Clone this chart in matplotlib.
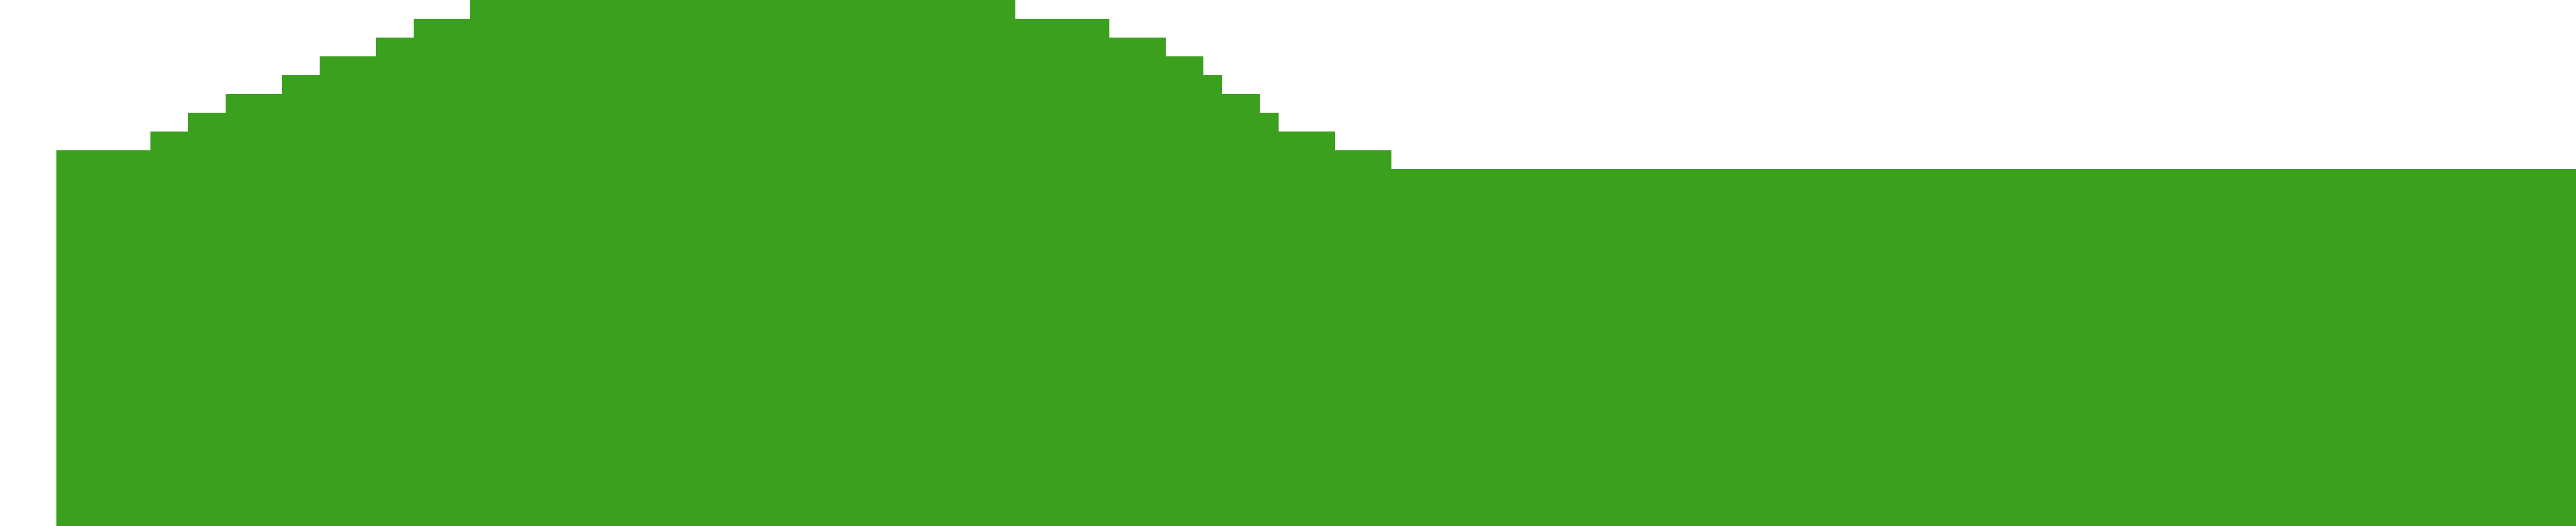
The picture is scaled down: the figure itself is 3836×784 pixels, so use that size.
import numpy as np
import matplotlib
matplotlib.use("Agg")
import matplotlib.pyplot as plt

# Run-length description of the series: value level and number of unit columns
levels = [20, 21, 22, 23, 24, 25, 26, 27, 28, 27, 26, 25, 24, 23, 22, 21, 20, 19]
counts = [5, 2, 2, 3, 2, 3, 2, 3, 29, 5, 3, 2, 1, 2, 1, 3, 3, 63]

values = np.repeat(levels, counts)
x = np.arange(len(values))

W, H = 3836, 784
fig = plt.figure(figsize=(W / 100, H / 100), dpi=100)
ax = fig.add_axes([84 / W, 0, (W - 84) / W, 1])
ax.bar(x, values, width=1.0, align="edge", color="#3ca01f", edgecolor="none", linewidth=0)
ax.set_xlim(0, len(values))
ax.set_ylim(0, 28)
ax.axis("off")
fig.savefig("out.png", dpi=100, facecolor="white")
